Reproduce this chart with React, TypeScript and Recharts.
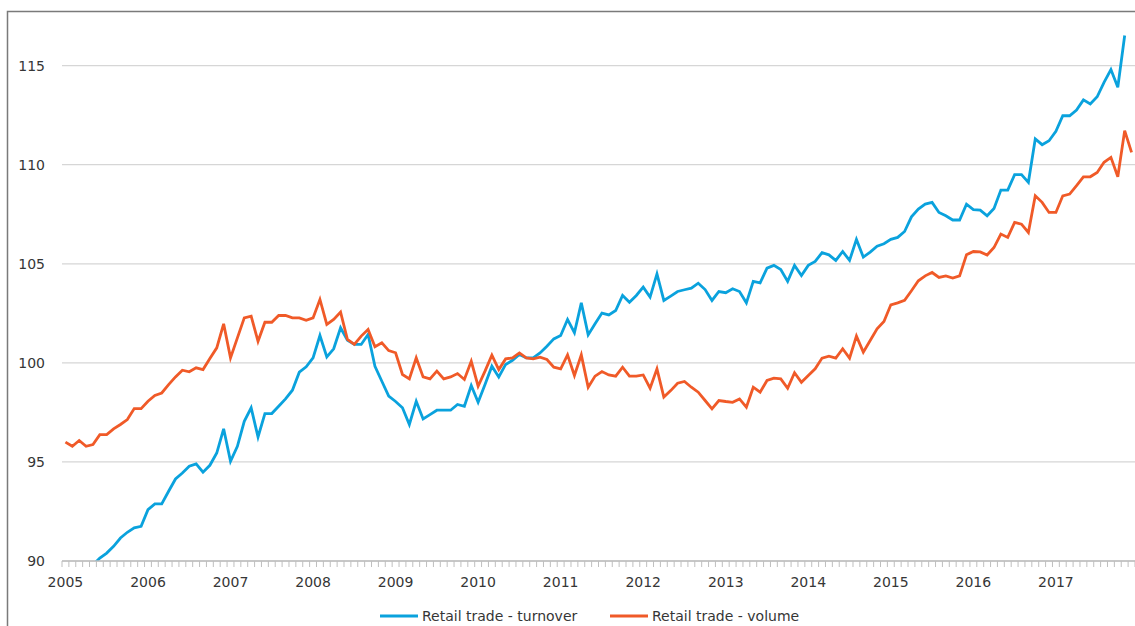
import React from "react";
import { LineChart, Line, XAxis, YAxis, CartesianGrid } from "recharts";

// monthly index, Jan 2005 .. Dec 2017
const years = ["2005", "2006", "2007", "2008", "2009", "2010", "2011", "2012", "2013", "2014", "2015", "2016", "2017"];

// turnover stops one month before volume (Nov 2017)
const turnover = [
  88.6, 88.9, 89.2, 89.5, 89.8, 90.15, 90.4, 90.74, 91.16, 91.45, 91.67, 91.75,
  92.59, 92.88, 92.88, 93.52, 94.14, 94.44, 94.78, 94.9, 94.48, 94.83, 95.45, 96.67,
  95.03, 95.79, 97.05, 97.73, 96.26, 97.44, 97.44, 97.81, 98.18, 98.62, 99.53, 99.8,
  100.25, 101.38, 100.3, 100.71, 101.77, 101.14, 100.93, 100.93, 101.43, 99.83, 99.07, 98.32,
  98.05, 97.73, 96.89, 98.06, 97.17, 97.39, 97.61, 97.61, 97.61, 97.9, 97.81, 98.86,
  98.01, 98.91, 99.83, 99.29, 99.92, 100.13, 100.42, 100.25, 100.25, 100.5, 100.84, 101.21,
  101.38, 102.19, 101.52, 103.03, 101.41, 101.97, 102.51, 102.42, 102.64, 103.4, 103.06, 103.4,
  103.82, 103.32, 104.49, 103.15, 103.37, 103.6, 103.69, 103.77, 104.02, 103.7, 103.15, 103.6,
  103.54, 103.74, 103.6, 103.03, 104.11, 104.04, 104.78, 104.92, 104.71, 104.11, 104.92, 104.41,
  104.92, 105.12, 105.56, 105.45, 105.17, 105.62, 105.17, 106.23, 105.34, 105.59, 105.89, 106.01,
  106.23, 106.33, 106.63, 107.37, 107.76, 108.01, 108.1, 107.59, 107.42, 107.21, 107.21, 108.01,
  107.73, 107.71, 107.42, 107.79, 108.72, 108.72, 109.5, 109.5, 109.11, 111.3, 111.01, 111.21,
  111.68, 112.47, 112.47, 112.76, 113.27, 113.06, 113.43, 114.16, 114.8, 113.91, 116.52,
];

const volume = [
  96.0, 95.79, 96.08, 95.79, 95.88, 96.38, 96.38, 96.67, 96.89, 97.14, 97.69, 97.69,
  98.06, 98.35, 98.48, 98.9, 99.29, 99.63, 99.55, 99.75, 99.66, 100.22, 100.76, 101.97,
  100.25, 101.26, 102.27, 102.36, 101.09, 102.05, 102.05, 102.39, 102.39, 102.27, 102.27, 102.15,
  102.27, 103.2, 101.94, 102.19, 102.56, 101.18, 100.93, 101.35, 101.68, 100.81, 101.01, 100.62,
  100.51, 99.41, 99.19, 100.25, 99.29, 99.19, 99.58, 99.19, 99.29, 99.46, 99.16, 100.08,
  98.82, 99.58, 100.39, 99.66, 100.2, 100.25, 100.5, 100.25, 100.2, 100.29, 100.17, 99.78,
  99.7, 100.4, 99.36, 100.4, 98.77, 99.33, 99.56, 99.39, 99.33, 99.78, 99.33, 99.33,
  99.39, 98.72, 99.7, 98.27, 98.6, 98.97, 99.06, 98.77, 98.52, 98.1, 97.68, 98.1,
  98.05, 98.01, 98.18, 97.76, 98.77, 98.52, 99.11, 99.23, 99.19, 98.72, 99.5, 99.02,
  99.36, 99.7, 100.24, 100.34, 100.24, 100.71, 100.24, 101.35, 100.54, 101.13, 101.72, 102.09,
  102.93, 103.03, 103.16, 103.64, 104.14, 104.39, 104.56, 104.31, 104.39, 104.28, 104.39, 105.45,
  105.62, 105.6, 105.44, 105.82, 106.5, 106.33, 107.09, 107.0, 106.58, 108.43, 108.1, 107.59,
  107.59, 108.43, 108.52, 108.94, 109.39, 109.39, 109.61, 110.12, 110.37, 109.39, 111.72, 110.62,
];

const yTicks = [90, 95, 100, 105, 110, 115];
const Y_MIN = 90;
const Y_MAX = 117;

const W = 1135;
const H = 626;
const PLOT_LEFT = 62;
const PLOT_TOP = 26;
const X_AXIS_H = 65;
const MONTHS = years.length * 12;
const STEP = (W - PLOT_LEFT) / MONTHS;

const BLUE = "#0aa2dd";
const ORANGE = "#f05a28";
const TEXT = "#363636";
const FONT = '"DejaVu Sans", sans-serif';

const data = volume.map((v, i) => ({
  i,
  turnover: i < turnover.length ? turnover[i] : null,
  volume: v,
}));

// tick marks sit on month boundaries, year labels on the January slot
const monthBounds = Array.from({ length: MONTHS + 1 }, (_, k) => k - 0.5);

function YearTick(props: any) {
  const { x, y, payload } = props;
  const k = Math.round(payload.value + 0.5);
  if (k % 12 !== 0 || k >= MONTHS) return <g />;
  return (
    <text x={x + STEP / 2} y={y} dy={20} textAnchor="middle" fill={TEXT} fontSize={14} fontFamily={FONT}>
      {years[k / 12]}
    </text>
  );
}

// grid only at the labelled values, not along the plot's top edge
const gridRows = (args: any) => {
  const top = args?.offset?.top ?? PLOT_TOP;
  const h = args?.offset?.height ?? H - PLOT_TOP - X_AXIS_H;
  return yTicks.map((t) => top + (h * (Y_MAX - t)) / (Y_MAX - Y_MIN));
};

export default function App() {
  return (
    <div style={{ position: "fixed", left: 0, top: 0, width: W, height: H, background: "#fff", overflow: "hidden" }}>
      <div style={{ position: "absolute", left: 0, top: 0 }}>
        <LineChart width={W} height={H} data={data} margin={{ top: PLOT_TOP, right: 0, bottom: 0, left: 0 }}>
          <CartesianGrid
            vertical={false}
            stroke="#d6d6d6"
            strokeWidth={1.3}
            horizontalCoordinatesGenerator={gridRows}
          />
          <XAxis
            dataKey="i"
            type="number"
            domain={[-0.5, MONTHS - 0.5]}
            ticks={monthBounds}
            interval={0}
            height={X_AXIS_H}
            tickSize={6}
            tickMargin={0}
            axisLine={{ stroke: "#bfbfbf", strokeWidth: 1.3 }}
            tickLine={{ stroke: "#bfbfbf", strokeWidth: 1 }}
            tick={YearTick}
          />
          <YAxis
            domain={[Y_MIN, Y_MAX]}
            ticks={yTicks}
            allowDataOverflow
            width={PLOT_LEFT}
            axisLine={false}
            tickLine={false}
            tickSize={0}
            tickMargin={17}
            tick={{ fill: TEXT, fontSize: 14, fontFamily: FONT }}
          />
          <Line type="linear" dataKey="turnover" stroke={BLUE} strokeWidth={2.8} dot={false} isAnimationActive={false} />
          <Line type="linear" dataKey="volume" stroke={ORANGE} strokeWidth={2.8} dot={false} isAnimationActive={false} />
        </LineChart>
      </div>
      <svg width={W} height={H} style={{ position: "absolute", left: 0, top: 0, pointerEvents: "none" }}>
        <path d={`M7.5,${H} V11.5 H${W}`} fill="none" stroke="#7a7a7a" strokeWidth={1.5} />
        <line x1={380} x2={418} y1={616} y2={616} stroke={BLUE} strokeWidth={2.8} />
        <text x={422} y={621} fill={TEXT} fontSize={14} fontFamily={FONT}>
          Retail trade - turnover
        </text>
        <line x1={610} x2={648} y1={616} y2={616} stroke={ORANGE} strokeWidth={2.8} />
        <text x={652} y={621} fill={TEXT} fontSize={14} fontFamily={FONT}>
          Retail trade - volume
        </text>
      </svg>
    </div>
  );
}
